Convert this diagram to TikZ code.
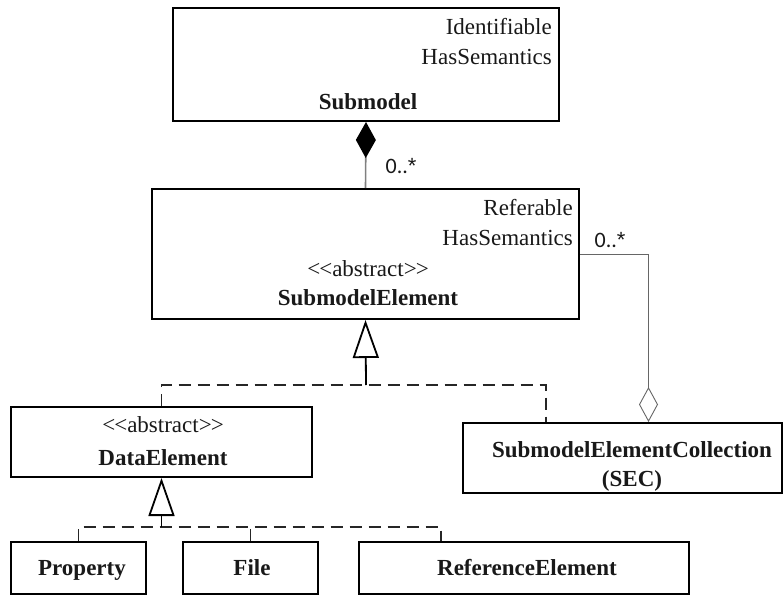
\documentclass[tikz,border=0pt]{standalone}
\usepackage{fontspec}
\setmainfont{Liberation Serif}
\newfontfamily\multfont{Carlito}
\newfontfamily\starfont{Liberation Sans}
\usetikzlibrary{arrows.meta}
\newcommand{\stereo}[1]{{<}\kern-1pt{<}#1{>}\kern-1pt{>}}
\newcommand{\many}{0..{\starfont *}}

\begin{document}
\begin{tikzpicture}[x=1pt,y=-1pt,
  umlbox/.style={draw=black, line width=2pt, inner sep=0pt, fill=white},
  txt/.style={inner sep=0pt, text height=15pt, text depth=0pt, text=black!90,
    font=\fontsize{23}{27}\selectfont},
  btxt/.style={txt, font=\fontsize{23}{27}\selectfont\bfseries},
  mult/.style={inner sep=0pt, text=black!90, font=\multfont\fontsize{22}{26}\selectfont},
  composition/.style={draw=black!50, line width=1.6pt,
    {Diamond[length=36pt, width=20pt, color=black, line width=0pt]}-},
  aggregation/.style={draw=black!60, line width=0.9pt,
    {Diamond[open, length=35pt, width=19pt, fill=white]}-},
  genhead/.style={draw=black, line width=1.8pt,
    -{Triangle[open, length=38pt, width=26pt, fill=white]}},
  realize/.style={draw=black!85, line width=1.8pt, dash pattern=on 12pt off 7pt},
]
\useasboundingbox (0,0) rectangle (784,596);

% ---- classes ----
\node[umlbox, minimum width=386pt, minimum height=113pt] (sm) at (366,64.5) {};
\node[txt, anchor=east] at (552,27) {Identifiable};
\node[txt, anchor=east] at (552,57) {HasSemantics};
\node[btxt] at (368,102) {Submodel};

\node[umlbox, minimum width=427pt, minimum height=130pt] (sme) at (365.5,254) {};
\node[txt, anchor=east] at (573,208) {Referable};
\node[txt, anchor=east] at (573,238) {HasSemantics};
\node[txt] at (368,269) {\stereo{abstract}};
\node[btxt] at (368,298) {SubmodelElement};

\node[umlbox, minimum width=301pt, minimum height=70pt] (de) at (161.5,442) {};
\node[txt] at (163,425) {\stereo{abstract}};
\node[btxt] at (163,458) {DataElement};

\node[umlbox, minimum width=319pt, minimum height=70pt] (sec) at (622.5,458) {};
\node[btxt] at (632,450) {SubmodelElementCollection};
\node[btxt] at (632,479) {(SEC)};

\node[umlbox, minimum width=135pt, minimum height=52pt] (prop) at (78.5,568) {};
\node[btxt] at (82,568) {Property};
\node[umlbox, minimum width=135pt, minimum height=52pt] (file) at (250.5,568) {};
\node[btxt] at (252,568) {File};
\node[umlbox, minimum width=330pt, minimum height=52pt] (refel) at (524,568) {};
\node[btxt] at (527,568) {ReferenceElement};

% ---- composition Submodel -> SubmodelElement ----
\draw[composition] (sm.south) -- (sme.north);
\node[mult] at (401,166) {\many};

% ---- aggregation SEC -> SubmodelElement ----
\draw[aggregation] ([xshift=186.5pt]sec.north west) |- (sme.east);
\node[mult] at (610,240) {\many};

% ---- generalisation of SubmodelElement ----
\coordinate (j1) at (366,385);
\draw[realize] (de.north) |- (j1) -| ([xshift=84pt]sec.north west);
\draw[genhead] (j1) -- (sme.south);

% ---- generalisation of DataElement ----
\coordinate (j2) at (161.5,527);
\draw[realize] (prop.north) |- ([xshift=83pt]refel.north west |- j2) -- ([xshift=83pt]refel.north west);
\draw[realize] (file.north) -- (file.north |- j2);
\draw[genhead] (j2) -- (de.south);
\end{tikzpicture}
\end{document}
